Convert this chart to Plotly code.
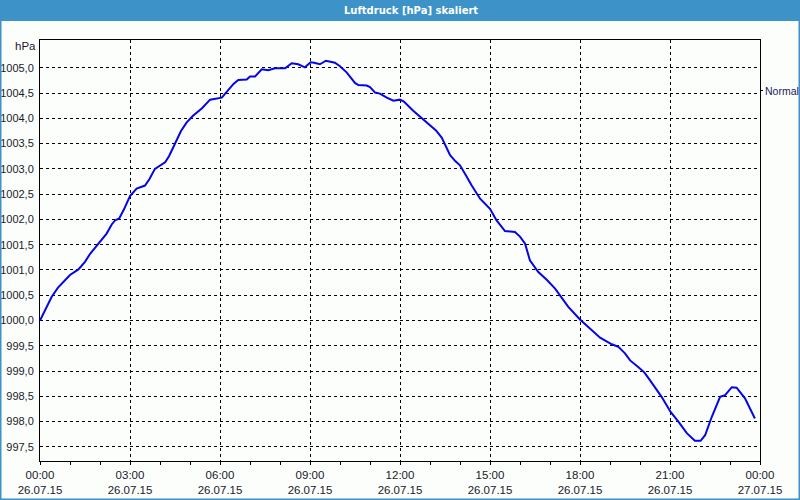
import plotly.graph_objects as go
import pandas as pd

# hours after 26.07.15 00:00
hours = [0.0, 0.2, 0.39, 0.6, 0.8, 1.0, 1.28, 1.5, 1.67, 1.95, 2.22, 2.39, 2.5, 2.64, 2.8,
         3.0, 3.22, 3.5, 3.65, 3.83, 4.17, 4.3, 4.5, 4.7, 4.89, 5.1, 5.4, 5.67, 6.06, 6.22,
         6.45, 6.61, 6.89, 7.0, 7.17, 7.39, 7.61, 7.83, 8.17, 8.39, 8.61, 8.83, 9.02, 9.14,
         9.33, 9.53, 9.83, 10.0, 10.22, 10.5, 10.61, 10.89, 11.0, 11.17, 11.33, 11.56, 11.78,
         12.0, 12.13, 12.44, 12.78, 13.0, 13.2, 13.39, 13.55, 13.67, 13.85, 14.0, 14.2, 14.39,
         14.67, 14.85, 15.0, 15.22, 15.5, 15.83, 16.0, 16.17, 16.33, 16.61, 16.9, 17.17, 17.4,
         17.61, 18.0, 18.33, 18.67, 19.06, 19.28, 19.5, 19.67, 19.94, 20.15, 20.33, 20.5,
         20.72, 21.02, 21.28, 21.56, 21.83, 22.02, 22.17, 22.39, 22.67, 22.83, 23.06, 23.22,
         23.5, 23.83]
pressure = [1000.0, 1000.25, 1000.47, 1000.65, 1000.78, 1000.9, 1001.01, 1001.16, 1001.32,
            1001.52, 1001.72, 1001.90, 1001.98, 1002.02, 1002.2, 1002.46, 1002.61, 1002.67,
            1002.8, 1003.0, 1003.13, 1003.25, 1003.5, 1003.75, 1003.92, 1004.05, 1004.2,
            1004.37, 1004.41, 1004.52, 1004.68, 1004.76, 1004.77, 1004.83, 1004.83, 1004.97,
            1004.95, 1004.99, 1004.99, 1005.09, 1005.07, 1005.01, 1005.11, 1005.10, 1005.07,
            1005.14, 1005.10, 1005.03, 1004.91, 1004.70, 1004.66, 1004.65, 1004.62, 1004.51,
            1004.49, 1004.41, 1004.35, 1004.37, 1004.33, 1004.15, 1003.98, 1003.87, 1003.76,
            1003.62, 1003.42, 1003.27, 1003.15, 1003.07, 1002.87, 1002.67, 1002.41, 1002.3,
            1002.21, 1001.98, 1001.77, 1001.75, 1001.66, 1001.52, 1001.19, 1000.96, 1000.8,
            1000.63, 1000.43, 1000.27, 1000.02, 999.84, 999.66, 999.53, 999.48, 999.35,
            999.21, 999.08, 998.97, 998.82, 998.68, 998.49, 998.19, 998.0, 997.77, 997.62,
            997.62, 997.73, 998.09, 998.49, 998.52, 998.68, 998.67, 998.46, 998.06]

y_ticks = [997.5, 998.0, 998.5, 999.0, 999.5, 1000.0, 1000.5, 1001.0, 1001.5, 1002.0,
           1002.5, 1003.0, 1003.5, 1004.0, 1004.5, 1005.0]
title_text = "Luftdruck [hPa] skaliert"
unit_text = "hPa"
series_label = "Normal"

start = pd.Timestamp("2015-07-26 00:00")
times = [start + pd.Timedelta(hours=h) for h in hours]

FONT = "Liberation Sans"
TXT = "#1a1a2a"
BLUE_BAR = "#3d92c8"

fig = go.Figure()
fig.add_trace(go.Scatter(x=times, y=pressure, mode="lines",
                         line=dict(color="#0505e6", width=2), showlegend=False,
                         hoverinfo="skip"))

W, H = 800, 500
L, R, T, B = 40, 40, 40, 39
pw, ph = W - L - R, H - T - B

def px(xp):
    return (xp - L) / pw

def py(yp):
    return (H - B - yp) / ph

shapes = [
    dict(type="rect", xref="paper", yref="paper", x0=px(0), x1=px(800), y0=py(21), y1=py(0),
         fillcolor=BLUE_BAR, line=dict(width=0), layer="above"),
    dict(type="rect", xref="paper", yref="paper", x0=px(0), x1=px(1.5), y0=py(500), y1=py(21),
         fillcolor=BLUE_BAR, line=dict(width=0)),
    dict(type="rect", xref="paper", yref="paper", x0=px(798.5), x1=px(800), y0=py(500), y1=py(21),
         fillcolor=BLUE_BAR, line=dict(width=0)),
    dict(type="rect", xref="paper", yref="paper", x0=px(0), x1=px(800), y0=py(500), y1=py(498.5),
         fillcolor=BLUE_BAR, line=dict(width=0)),
    dict(type="line", xref="paper", yref="y", x0=1, x1=px(763), y0=1004.55, y1=1004.55,
         line=dict(color="black", width=1)),
]

annotations = [
    dict(text="<b>" + title_text + "</b>", xref="paper", yref="paper", x=px(411), y=py(10.5),
         showarrow=False, font=dict(family="DejaVu Sans", size=10, color="white"),
         xanchor="center", yanchor="middle"),
    dict(text=unit_text, xref="paper", yref="paper", x=px(38), y=py(46), showarrow=False,
         font=dict(family=FONT, size=11.5, color=TXT), xanchor="right", yanchor="middle"),
    dict(text=series_label, xref="paper", yref="y", x=px(763), y=1004.55, showarrow=False,
         font=dict(family=FONT, size=10.5, color="#1a1a5a"), xanchor="left", yanchor="middle"),
]

fig.update_layout(
    width=W, height=H,
    margin=dict(l=L, r=R, t=T, b=B, pad=0, autoexpand=False),
    paper_bgcolor="#fcfefc", plot_bgcolor="#fcfefc",
    separators=",.",
    font=dict(family=FONT, size=11, color=TXT),
    shapes=shapes, annotations=annotations,
    xaxis=dict(
        type="date", automargin=False,
        range=[start, start + pd.Timedelta(hours=24)],
        tick0=start, dtick=3 * 3600 * 1000,
        tickformat="%H:%M<br>%d.%m.%y",
        tickfont=dict(size=11.5),
        ticks="outside", ticklen=3, tickcolor="black",
        minor=dict(dtick=3600 * 1000, ticks="outside", ticklen=3, tickcolor="black", showgrid=False),
        showgrid=True, gridcolor="black", gridwidth=1, griddash="3px,3px",
        showline=True, linecolor="black", linewidth=1, mirror=True,
        zeroline=False, fixedrange=True,
    ),
    yaxis=dict(
        automargin=False,
        range=[997.22, 1005.55],
        tickvals=y_ticks, tickformat=".1f",
        ticks="", ticklabelstandoff=3,
        showgrid=True, gridcolor="black", gridwidth=1, griddash="3px,3px",
        showline=True, linecolor="black", linewidth=1, mirror=True,
        zeroline=False, fixedrange=True,
    ),
)

fig.write_html("out.html")
